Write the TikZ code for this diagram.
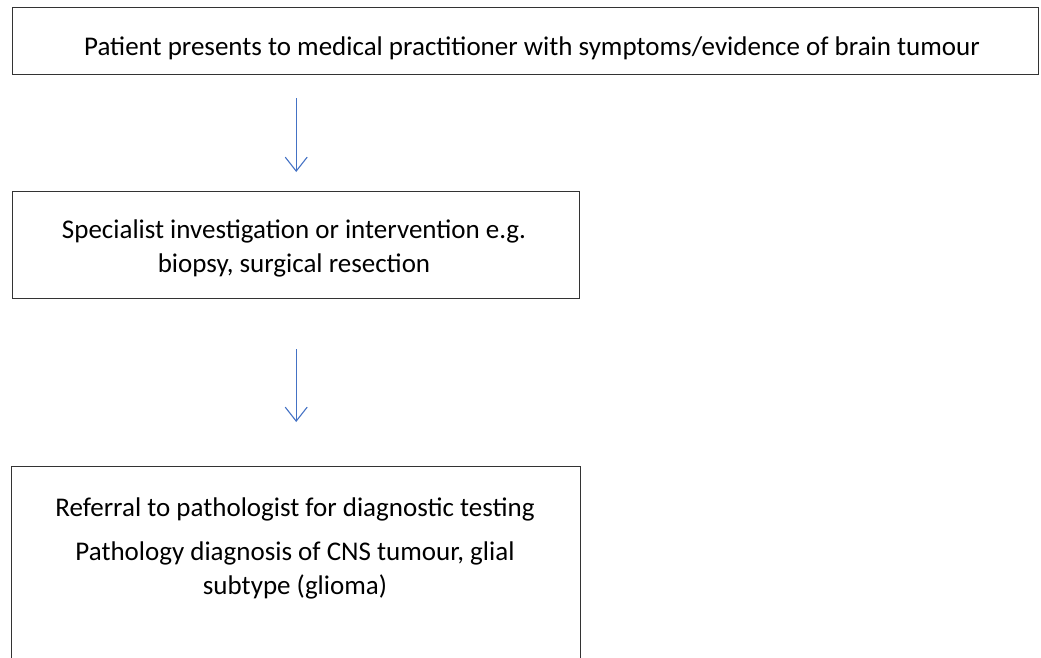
\documentclass[tikz,border=0pt]{standalone}
\usepackage{fontspec}
\setmainfont{Carlito}
\usetikzlibrary{arrows.meta}

\definecolor{arrowblue}{RGB}{68,114,196}

\begin{document}
\begin{tikzpicture}[x=1pt,y=-1pt,
    flowbox/.style={draw=black!80, line width=1.4pt, inner sep=0pt, anchor=north west},
    flowtext/.style={align=center, inner sep=0pt, anchor=base, font=\fontsize{27}{34}\selectfont},
    flowarrow/.style={arrowblue, line width=1.1pt, -{Straight Barb[length=14pt,width=22pt,line width=1.1pt]}}]
          \useasboundingbox (0,0) rectangle (1041,657);
          \clip (0,0) rectangle (1041,657);

          % the three boxes
          \node[flowbox, minimum width=1026pt, minimum height=67pt] (present) at (12,7) {};
          \node[flowbox, minimum width=567pt, minimum height=107pt] (specialist) at (12,191) {};
          \node[flowbox, minimum width=569pt, minimum height=260pt] (referral) at (11,466) {};

          % texts (multi-line ones sit on their last baseline)
          \node[flowtext] (presenttxt) at (532,55) {Patient presents to medical practitioner with symptoms/evidence of brain tumour};
          \node[flowtext] (specialisttxt) at (294,272) {Specialist investigation or intervention e.g.\\ biopsy, surgical resection};
          \node[flowtext] (referraltxt) at (295,516) {Referral to pathologist for diagnostic testing};
          \node[flowtext] (diagnosistxt) at (295,594) {Pathology diagnosis of CNS tumour, glial\\ subtype (glioma)};

          % arrows
          \draw[flowarrow, shorten <=23pt, shorten >=19pt] (specialist.north |- present.south) -- (specialist.north);
          \draw[flowarrow, shorten <=50pt, shorten >=44pt] (referral.north |- specialist.south) -- (referral.north);

\end{tikzpicture}
\end{document}
